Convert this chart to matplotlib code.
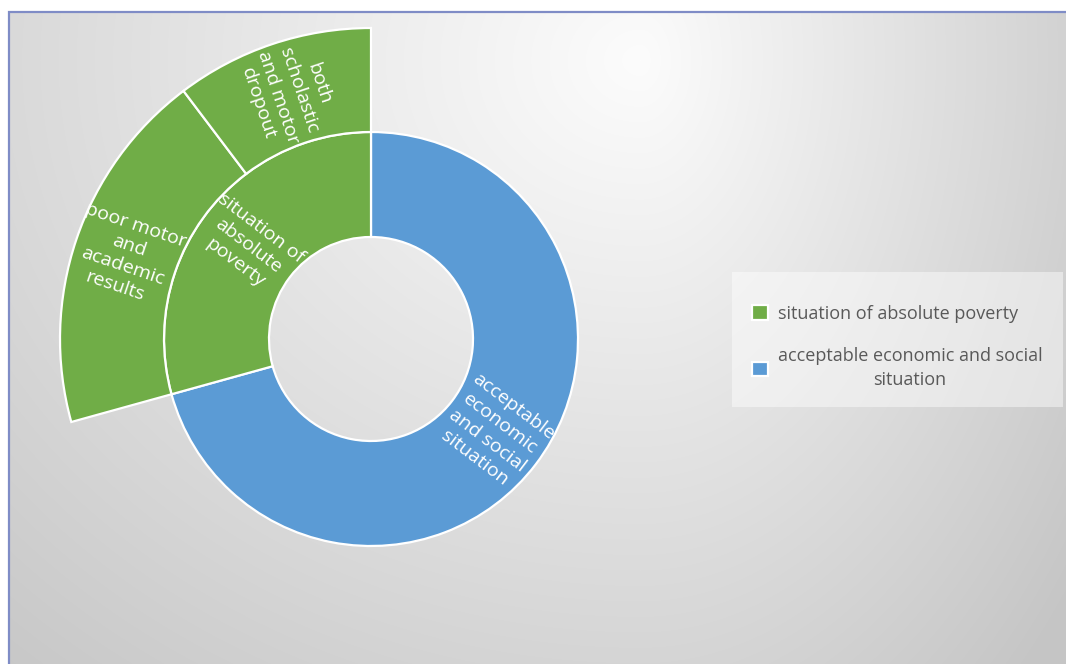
import numpy as np
import matplotlib
matplotlib.use("Agg")
import matplotlib.pyplot as plt
from matplotlib.patches import Rectangle

plt.rcParams['font.family'] = ['Open Sans', 'DejaVu Sans']

# ---- data ----
inner_labels = ["acceptable economic and social situation", "situation of absolute poverty"]
inner_values = [70.7, 29.3]
inner_colors = ["#5B9BD5", "#70AD47"]
inner_wedge_text = ["acceptable\neconomic\nand social\nsituation", "situation of\nabsolute\npoverty"]

outer_labels = ["poor motor and academic results", "both scholastic and motor dropout"]
outer_values = [19.0, 10.3]
outer_wedge_text = ["poor motor\nand\nacademic\nresults", "both\nscholastic\nand motor\ndropout"]

legend_labels = ["situation of absolute poverty", "acceptable economic and social\nsituation"]

W, H = 1066, 664
fig = plt.figure(figsize=(W / 100, H / 100), dpi=100)
ax = fig.add_axes([0, 0, 1, 1])
ax.set_xlim(0, W)
ax.set_ylim(0, H)
ax.set_aspect('equal')
ax.axis('off')

# background: white outside, gradient inside the border
fig.patch.set_facecolor('white')
yy, xx = np.mgrid[0:H, 0:W]
cx, cy = 640.0, 60.0
dx = xx - cx
rx = np.where(dx < 0, 1000.0, 560.0)
t = np.sqrt((dx / rx) ** 2 + ((yy - cy) / 850.0) ** 2)
v = np.clip(252 - 55 * t, 197, 252) / 255.0
img = np.dstack([v, v, v])
left, top = 9, 12
ax.imshow(img[top:, left:], extent=(left, W, 0, H - top), origin='upper', zorder=0)
ax.plot([left, left, W + 5], [-5, H - top, H - top], color='#7f8cc6', lw=1.6, zorder=1,
        solid_joinstyle='miter')

center = (371, H - 339)
r_hole, r_mid, r_out = 102, 207, 311

inner_w, _ = ax.pie(inner_values, radius=r_mid, center=center, startangle=90,
                    counterclock=False, colors=inner_colors, frame=True,
                    wedgeprops=dict(width=r_mid - r_hole, edgecolor='white', linewidth=1.6))
outer_vals = [inner_values[0]] + outer_values
outer_w, _ = ax.pie(outer_vals, radius=r_out, center=center, startangle=90,
                    counterclock=False, colors=["none", "#70AD47", "#70AD47"], frame=True,
                    wedgeprops=dict(width=r_out - r_mid, edgecolor='white', linewidth=1.6))
outer_w[0].set_visible(False)
ax.set_xlim(0, W)
ax.set_ylim(0, H)
ax.axis('off')


def put_label(w, txt, r):
    mid = (w.theta1 + w.theta2) / 2.0
    mid = (mid + 180) % 360 - 180
    rot = mid - 180 if abs(mid) > 90 else mid
    a = np.deg2rad(mid)
    x = center[0] + r * np.cos(a)
    y = center[1] + r * np.sin(a)
    ax.text(x, y, txt, rotation=rot, rotation_mode='anchor', ha='center', va='center',
            multialignment='center', color='white', fontsize=14, linespacing=1.25, zorder=5)


for w, txt in zip(inner_w, inner_wedge_text):
    put_label(w, txt, (r_hole + r_mid) / 2)
for w, txt in zip(outer_w[1:], outer_wedge_text):
    put_label(w, txt, (r_mid + r_out) / 2)

# legend box
ax.add_patch(Rectangle((732, H - 407), 331, 135, facecolor='white', alpha=0.45,
                       edgecolor='none', zorder=2))
leg = ax.legend([inner_w[1], inner_w[0]], legend_labels, loc='center left',
                bbox_to_anchor=(736 / W, 1 - 347 / H), frameon=False, fontsize=13,
                handlelength=0.85, handleheight=0.85, handletextpad=0.55, labelspacing=1.35,
                labelcolor='#595959')
for tx in leg.get_texts():
    tx.set_multialignment('center')
    tx.set_linespacing(1.45)

fig.savefig('out.png', dpi=100)
